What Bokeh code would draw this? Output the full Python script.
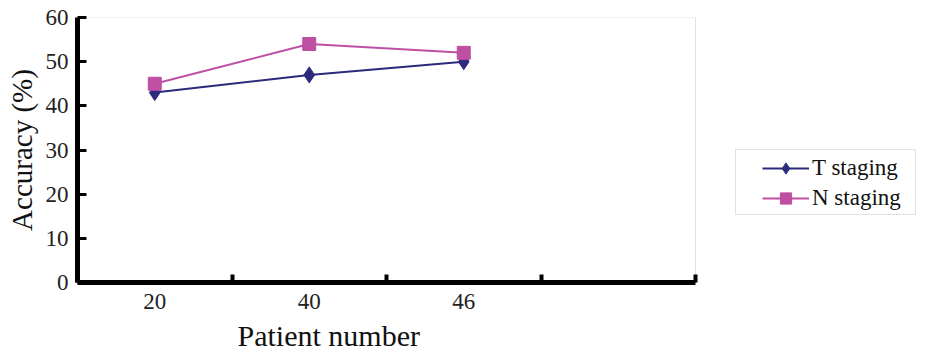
from bokeh.plotting import figure
from bokeh.models import (Range1d, FixedTicker, LinearAxis, Legend, LegendItem,
                          Title, ColumnDataSource, BoxAnnotation)
from bokeh.embed import file_html
from bokeh.resources import INLINE

categories = ["20", "40", "46"]
t_staging = [43, 47, 50]
n_staging = [45, 54, 52]
y_ticks = [0, 10, 20, 30, 40, 50, 60]
n_slots = 4
y_max = 60

xs = [i + 0.5 for i in range(len(categories))]
FONT = "Liberation Serif"
T_COL = "#2B2A7C"
N_COL = "#BE4FA2"

# layout (canvas pixels)
W, H = 927, 358
PL, PR, PT, PB = 77, 695, 17, 282   # visible plot area
FR = 920                            # frame extends right to hold the legend
x_end = n_slots * (FR - PL) / (PR - PL)

p = figure(width=W, height=H, output_backend="svg", toolbar_location=None,
           x_range=Range1d(0, x_end), y_range=Range1d(0, y_max),
           x_axis_type=None, y_axis_type=None,
           min_border_left=PL, min_border_right=W - FR, min_border_top=PT,
           min_border_bottom=H - PB)
p.grid.visible = False
p.outline_line_color = None
p.background_fill_color = "white"
p.border_fill_color = "white"

# thin gray plot-area border
p.add_layout(BoxAnnotation(left=0, right=n_slots, bottom=0, top=y_max,
                           fill_color=None, line_color="#9a9a9a", line_width=1,
                           level="underlay"))

xa = LinearAxis(ticker=FixedTicker(ticks=xs, minor_ticks=list(range(n_slots + 1))),
                bounds=(0, n_slots))
xa.major_label_overrides = {x: c for x, c in zip(xs, categories)}
xa.major_tick_in = 0
xa.major_tick_out = 0
xa.minor_tick_in = 8
xa.minor_tick_out = 0
xa.minor_tick_line_width = 4
xa.minor_tick_line_color = "black"
xa.axis_line_width = 5
xa.axis_line_color = "black"
xa.major_label_text_font = FONT
xa.major_label_text_font_size = "23px"
xa.major_label_text_color = "#222222"
xa.major_label_standoff = 11
p.add_layout(xa, "below")

ya = LinearAxis(ticker=FixedTicker(ticks=y_ticks))
ya.major_tick_in = 9
ya.major_tick_out = 0
ya.major_tick_line_width = 3
ya.major_tick_line_color = "black"
ya.minor_tick_line_color = None
ya.axis_line_width = 5
ya.axis_line_color = "black"
ya.major_label_text_font = FONT
ya.major_label_text_font_size = "23px"
ya.major_label_text_color = "#222222"
ya.major_label_standoff = 9
ya.axis_label = "Accuracy (%)"
ya.axis_label_text_font = FONT
ya.axis_label_text_font_size = "29px"
ya.axis_label_text_font_style = "normal"
ya.axis_label_text_color = "#111111"
ya.axis_label_standoff = 5
p.add_layout(ya, "left")

xt = Title(text="Patient number", align="left", offset=160, standoff=11,
           text_font=FONT, text_font_size="30px", text_font_style="normal",
           text_color="#111111")
p.add_layout(xt, "below")

src = ColumnDataSource(dict(x=xs, t=t_staging, n=n_staging))
lt = p.line("x", "t", source=src, color=T_COL, line_width=2)
mt = p.scatter("x", "t", source=src, marker="diamond", size=16, color=T_COL)
ln = p.line("x", "n", source=src, color=N_COL, line_width=2)
mn = p.scatter("x", "n", source=src, marker="square", size=13, color=N_COL)

legend = Legend(items=[LegendItem(label="T staging", renderers=[lt, mt]),
                       LegendItem(label="N staging", renderers=[ln, mn])],
                location=(762 - PL, PB - 212), orientation="vertical",
                label_text_font=FONT, label_text_font_size="23px",
                label_text_color="#111111",
                glyph_width=47, glyph_height=28, label_height=28,
                label_standoff=3, spacing=2, padding=0, margin=0,
                border_line_color=None, background_fill_alpha=0)
p.add_layout(legend, "center")

p.add_layout(BoxAnnotation(left=735, right=915, top=149, bottom=214,
                           left_units="canvas", right_units="canvas",
                           top_units="canvas", bottom_units="canvas",
                           fill_color=None, line_color="#9a9a9a", line_width=1))

open("out.html", "w").write(file_html(p, INLINE))
